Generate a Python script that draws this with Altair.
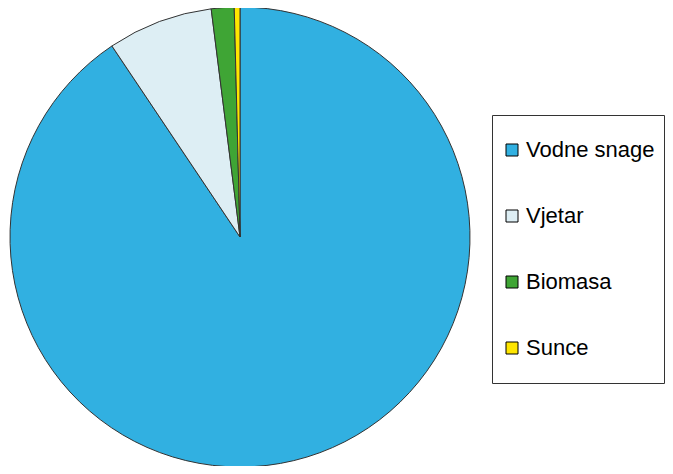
import altair as alt
import pandas as pd

categories = ["Vodne snage", "Vjetar", "Biomasa", "Sunce"]
shares = [90.6, 7.4, 1.6, 0.4]
colors = ["#31B0E1", "#DDEEF4", "#3FA535", "#FFE600"]

df = pd.DataFrame({
    "kategorija": categories,
    "udio": shares,
    "redoslijed": list(range(len(categories))),
})

chart = (
    alt.Chart(df)
    .mark_arc(outerRadius=230, stroke="#333333", strokeWidth=1)
    .encode(
        theta=alt.Theta("udio:Q", stack=True),
        order=alt.Order("redoslijed:Q"),
        x=alt.value(232),
        y=alt.value(229),
        color=alt.Color(
            "kategorija:N",
            sort=categories,
            scale=alt.Scale(domain=categories, range=colors),
            legend=alt.Legend(
                title=None,
                orient="none",
                legendX=484,
                legendY=107,
                padding=9,
                strokeColor="#333333",
                fillColor="white",
                symbolType="square",
                symbolSize=144,
                symbolStrokeColor="black",
                symbolStrokeWidth=1,
                symbolOpacity=1,
                clipHeight=52,
                rowPadding=14,
                labelFont="Liberation Sans",
                labelFontSize=22,
                labelColor="black",
                labelOffset=3,
                labelLimit=300,
            ),
        ),
    )
    .properties(width=657, height=458, padding=0, autosize=alt.AutoSizeParams(type="none"))
    .configure_view(stroke=None)
)

chart.save("out.html", embed_options={"renderer": "svg", "actions": False})
